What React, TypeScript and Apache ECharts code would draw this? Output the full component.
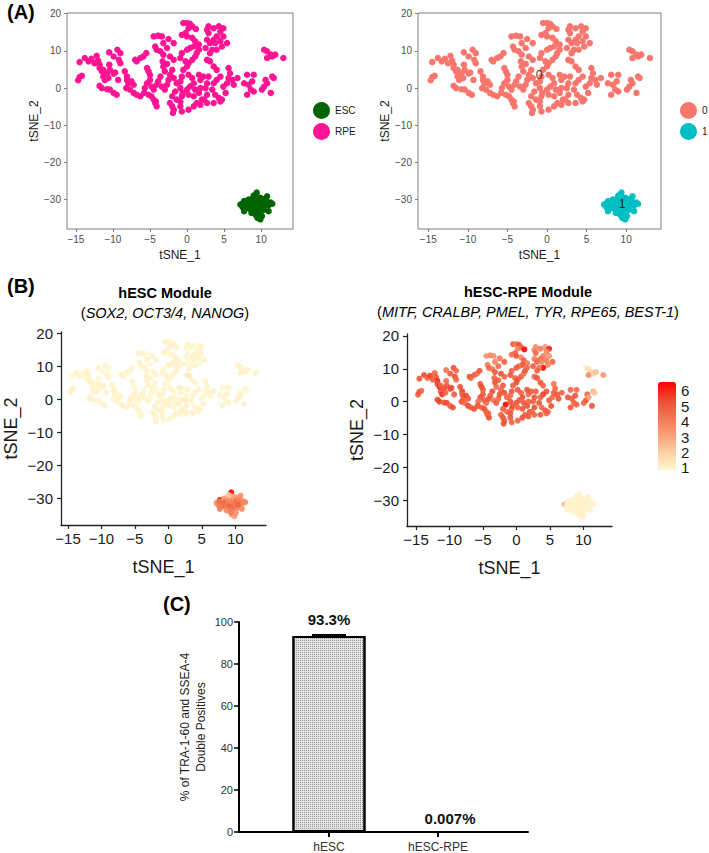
import React, { useEffect, useRef } from 'react';
import * as echarts from 'echarts';

const FONT = '"Liberation Sans", Arial, Helvetica, sans-serif';

// RPE cells: [tSNE_1, tSNE_2, hESC-RPE module score, hESC module score]
const rpeCells = [
  [-14.7,2.1,4.6,1.1],[-14.5,3.0,4.9,1.1],[-14.5,7.0,4.7,1.0],[-13.8,8.1,5.0,1.1],[-13.3,7.2,4.5,1.1],
  [-12.9,7.9,5.2,1.0],[-12.2,8.7,4.4,1.1],[-12.0,7.4,4.8,1.2],[-11.8,6.3,5.5,1.1],[-12.5,6.7,4.6,1.0],
  [-14.2,3.3,4.3,1.1],[-11.8,5.4,4.9,1.1],[-11.5,4.5,5.6,1.0],[-11.3,3.1,4.7,1.1],[-11.8,0.6,5.0,1.1],
  [-11.5,0.0,5.1,1.2],[-10.8,-0.3,4.8,1.1],[-10.4,-0.4,5.0,1.0],[-9.9,-1.3,4.6,1.1],[-9.5,-1.8,4.9,1.1],
  [-11.3,4.9,4.4,1.1],[-10.8,4.0,4.8,1.0],[-11.1,2.2,5.3,1.1],[-10.6,2.7,4.5,1.1],[-10.4,4.9,4.9,1.1],
  [-10.5,6.3,4.2,1.0],[-9.9,3.9,4.7,1.1],[-9.7,4.2,5.0,1.1],[-9.3,2.2,4.6,1.2],[-9.4,10.3,4.8,1.1],
  [-9.0,9.4,4.3,1.0],[-9.2,7.6,4.9,1.1],[-9.0,6.7,4.5,1.1],[-10.5,9.6,4.1,1.1],[-9.9,8.5,4.6,1.0],
  [-8.4,4.5,4.8,1.1],[-8.1,3.1,5.2,1.1],[-7.9,1.3,4.7,1.1],[-8.2,0.0,4.9,1.0],[-7.7,-0.4,4.4,1.1],
  [-7.2,-1.3,5.0,1.1],[-6.8,-1.8,4.6,1.2],[-6.3,-2.2,4.8,1.1],[-8.1,2.2,4.5,1.1],[-7.5,1.8,5.1,1.0],
  [-7.2,0.9,4.7,1.1],
  [-7.0,7.6,4.9,1.1],[-6.8,7.2,4.4,1.1],[-6.3,8.1,4.7,1.0],[-5.9,8.5,4.2,1.1],[-5.5,9.4,4.8,1.1],
  [-5.4,5.4,4.5,1.1],[-5.2,4.5,5.0,1.0],[-5.0,2.2,4.6,1.1],[-5.4,1.3,4.9,1.1],[-5.7,0.0,4.3,1.2],
  [-5.8,-1.3,4.8,1.1],[-5.2,-1.8,4.5,1.1],[-4.8,-2.2,4.9,1.0],[-4.5,-3.1,4.6,1.1],[-4.3,-4.0,4.8,1.1],
  [-4.1,-4.9,5.0,1.1],[-4.2,-3.6,4.4,1.0],[-4.8,0.4,4.7,1.1],[-4.5,-0.4,4.2,1.1],[-4.1,0.9,4.9,1.1],
  [-5.0,3.6,4.6,1.0],[-4.3,11.2,3.8,1.1],[-4.5,13.9,3.2,1.1],[-3.9,14.1,3.6,1.1],[-3.4,13.9,3.4,1.0],
  [-4.1,10.3,4.4,1.1],[-3.6,9.9,4.0,1.1],[-3.2,9.0,4.7,1.1],[-3.3,7.2,4.5,1.2],[-3.2,5.8,4.8,1.1],
  [-3.0,4.5,4.3,1.1],[-3.6,3.1,4.9,1.0],[-3.9,1.8,4.6,1.1],[-3.4,0.4,3.9,1.1],[-3.0,-0.4,4.7,1.1],
  [-2.7,0.9,4.4,1.0],[-2.5,2.2,4.8,1.1],[-2.3,3.6,4.5,1.1],[-2.5,13.2,3.9,1.1],[-1.8,12.1,4.5,1.1],
  [-2.7,10.8,4.2,1.0],[-3.2,12.1,3.7,1.1],[-2.3,8.5,4.8,1.1],[-1.8,7.6,4.4,1.1],[-2.7,6.5,4.6,1.1],
  [-2.0,4.9,4.7,1.1],[-1.8,2.7,4.9,1.0],[-1.4,1.3,4.5,1.1],[-0.9,0.0,5.0,1.1],[-1.6,-0.9,6.0,1.1],
  [-2.0,-2.2,4.6,1.2],[-2.3,-4.0,4.4,1.1],[-2.0,-4.9,4.8,1.1],[-1.8,-5.8,4.6,1.0],[-1.9,-6.7,4.9,1.1],
  [-1.4,-3.1,4.3,1.1],[-0.9,-3.6,4.7,1.1],[-0.7,-2.2,4.5,1.0],[-0.6,-1.3,4.8,1.1],[-0.5,17.5,4.6,1.1],
  [0.0,17.5,4.0,1.1],[0.4,17.3,5.0,1.0],[0.7,16.6,4.4,1.1],[0.2,16.1,3.8,1.1],[-0.2,14.8,4.5,1.1],
  [-0.7,14.3,4.2,1.1],[0.0,13.9,4.7,1.0],[0.7,13.5,3.6,1.1],[1.1,12.6,4.6,1.1],[1.6,11.7,3.9,1.1],
  [0.9,11.2,4.8,1.2],[0.4,10.8,4.3,1.1],[0.0,10.3,4.7,1.1],[-0.7,9.4,4.5,1.0],[-0.9,8.1,4.9,1.1],
  [-0.2,7.2,4.4,1.1],[0.2,6.7,4.8,1.1],[0.7,7.6,4.6,1.0],[1.1,8.5,4.1,1.1],[1.3,9.4,4.7,1.1],
  [1.6,10.3,4.4,1.1],[0.0,5.8,4.9,1.1],[-0.5,4.9,4.6,1.0],[-0.7,3.1,4.8,1.1],[-0.9,1.8,4.3,1.1],
  [0.2,3.6,4.7,1.1],[0.7,2.7,4.5,1.1],[0.9,1.3,4.9,1.0],[0.4,0.4,4.6,1.1],[0.0,-0.4,4.8,1.1],
  [0.2,-1.8,4.4,1.1],[0.9,-2.2,4.7,1.0],[1.6,-1.3,4.9,1.1],[1.8,0.0,4.5,1.1],[1.1,-0.4,4.8,1.1],
  [1.8,2.2,4.2,1.1],[2.2,3.1,4.6,1.0],[1.6,3.6,4.9,1.1],[0.2,-5.8,4.5,1.1],[-0.9,-4.9,4.7,1.1],
  [-0.7,-6.3,4.4,1.0],[2.0,-3.1,4.8,1.1],[1.3,-4.0,4.6,1.1],[0.9,-4.9,4.9,1.1],[2.7,15.7,3.7,1.1],
  [2.9,14.8,4.3,1.0],[2.7,13.0,3.9,1.1],[2.5,10.8,4.6,1.1],[2.7,7.6,4.4,1.1],[3.1,7.2,4.8,1.5],
  [2.9,3.1,4.5,1.1],[2.7,1.3,4.8,1.0],[2.5,0.0,4.6,1.3],[2.7,-1.8,4.9,1.1],[2.3,-3.1,4.4,1.1],
  [1.8,-4.5,4.7,1.1],[1.2,15.9,6.0,1.1],
  [2.9,16.6,3.5,1.1],[3.6,16.1,3.9,1.1],[4.3,16.6,3.3,1.0],[4.9,16.1,5.6,1.1],[4.5,15.2,3.6,1.1],
  [4.0,13.9,3.8,1.1],[3.6,13.0,4.2,1.1],[3.1,12.1,4.5,1.0],[3.8,12.1,3.6,1.1],[4.5,12.6,3.9,1.1],
  [4.9,13.9,3.4,1.1],[5.4,12.1,4.4,1.1],[4.7,11.2,3.7,1.0],[4.0,10.3,6.0,1.1],[3.4,10.3,4.1,1.1],
  [3.1,9.4,4.6,1.1],[3.6,5.8,4.8,1.1],[4.0,4.9,4.4,1.0],[4.5,3.1,4.7,1.1],[4.0,2.2,5.2,1.1],
  [3.6,1.3,4.5,1.1],[3.4,-0.4,4.8,1.1],[3.8,-1.8,4.3,1.0],[4.3,-2.7,4.7,1.1],[4.7,-3.1,4.5,1.1],
  [5.2,-1.3,4.9,1.1],[4.9,0.4,4.6,1.1],[5.4,1.3,4.2,1.0],[5.6,2.7,4.7,1.1],[5.8,4.0,4.4,1.1],
  [5.6,5.4,4.0,1.1],[6.1,2.2,4.6,1.1],[6.3,0.9,4.8,1.0],[4.5,-3.6,4.4,1.1],[3.6,-4.0,4.7,1.1],
  [2.7,-4.0,4.5,1.1],
  [6.8,2.7,4.5,1.1],[7.7,1.3,4.7,1.1],[8.1,3.6,4.3,1.0],[8.3,0.9,4.6,1.1],[9.0,3.6,4.2,1.1],
  [8.8,1.8,4.8,1.1],[8.6,-0.4,4.5,1.0],[8.1,-1.8,4.7,1.1],[9.0,-0.9,4.4,1.1],[10.4,10.3,1.3,1.1],
  [10.8,9.9,1.6,1.1],[11.3,9.0,1.9,1.0],[10.8,8.1,3.6,1.1],[11.5,8.5,2.0,1.1],[11.9,9.0,2.3,1.1],
  [13.0,8.1,3.3,1.1],[10.6,2.2,4.4,1.0],[10.4,0.4,4.7,1.1],[10.1,-0.4,4.5,1.1],[10.8,1.3,3.0,1.1],
  [11.5,3.1,2.6,1.1],[11.7,2.7,2.2,1.0],[11.3,-1.3,4.8,1.1],
];

// ESC cells: [tSNE_1, tSNE_2, hESC-RPE module score, hESC module score]
const escCells = [
  [7.2,-31.3,2.6,3.4],[7.5,-32.0,1.2,3.8],[7.7,-33.1,1.1,4.0],[7.9,-31.0,1.2,3.6],[7.7,-30.4,1.1,6.0],
  [8.3,-30.0,1.1,3.2],[8.3,-31.5,1.1,4.2],[8.5,-32.5,1.2,3.7],[8.6,-30.8,1.1,4.4],[8.8,-29.8,1.1,3.0],
  [8.9,-31.8,1.1,3.9],[9.0,-33.0,1.2,4.1],[9.1,-30.5,1.1,3.5],[9.2,-32.0,1.1,4.5],[9.4,-28.1,1.1,6.0],
  [9.4,-29.3,1.1,2.4],[9.5,-31.0,1.1,3.8],[9.5,-34.9,1.1,3.3],[9.6,-33.5,1.2,4.0],[9.7,-30.2,1.1,3.6],
  [9.8,-32.3,1.1,4.3],[9.9,-29.5,1.1,3.1],[10.0,-31.5,1.1,3.9],[10.1,-34.4,1.1,3.4],[10.2,-30.6,1.2,4.2],
  [10.3,-32.8,1.1,3.7],[10.5,-29.8,1.1,3.5],[10.6,-31.2,1.1,4.0],[10.8,-29.1,1.1,3.3],[10.8,-30.5,1.1,3.8],
  [11.0,-33.1,1.1,3.6],[11.0,-31.5,1.1,3.9],[11.3,-30.8,1.1,3.4],[11.5,-31.1,1.2,3.7],[8.1,-32.2,1.1,4.1],
  [8.7,-33.6,1.1,3.5],[9.3,-34.2,1.1,3.8],[10.4,-31.9,1.1,4.4],[9.0,-28.9,1.1,2.2],[7.6,-30.8,1.1,3.9],
  [9.9,-35.3,1.1,3.2],
];

const xTicks = [-15, -10, -5, 0, 5, 10];
const yTicks = [-30, -20, -10, 0, 10, 20];
const clusterLabels = [[-1.0, 3.6, '0'], [9.5, -31.1, '1']];
const colorbarTicks = [1, 2, 3, 4, 5, 6];

const barCategories = ['hESC', 'hESC-RPE'];
const barValues = [93.3, 0.007];
const barErrors = [0.35, 0];
const barLabels = ['93.3%', '0.007%'];

const fmtMinus = (v: number) => (v < 0 ? '\u2212' + Math.abs(v) : String(v));

function axA(gi: number, dir: 'x' | 'y', min: number, max: number) {
  return {
    type: 'value', gridIndex: gi, min, max,
    name: dir === 'x' ? 'tSNE_1' : 'tSNE_2',
    nameLocation: 'middle', nameGap: dir === 'x' ? 20 : 22,
    nameTextStyle: { fontSize: 12, color: '#1a1a1a', fontFamily: FONT },
    axisLine: { show: false, onZero: false },
    axisTick: { show: true, length: 3, lineStyle: { color: '#7f7f7f' }, customValues: dir === 'x' ? xTicks : yTicks },
    axisLabel: { fontSize: 10, color: '#4d4d4d', fontFamily: FONT, margin: dir === 'x' ? 5 : 6, customValues: dir === 'x' ? xTicks : yTicks, formatter: fmtMinus },
    splitLine: { show: false },
  };
}

function axB(gi: number, dir: 'x' | 'y', min: number, max: number) {
  return {
    type: 'value', gridIndex: gi, min, max,
    name: dir === 'x' ? 'tSNE_1' : 'tSNE_2',
    nameLocation: 'middle', nameGap: dir === 'x' ? 33 : 41,
    nameTextStyle: { fontSize: 18, color: '#1a1a1a', fontFamily: FONT },
    axisLine: { show: true, onZero: false, lineStyle: { color: '#222', width: 1.3 } },
    axisTick: { show: true, length: 4, lineStyle: { color: '#222', width: 1.2 }, customValues: dir === 'x' ? xTicks : yTicks },
    axisLabel: { fontSize: 15, color: '#1a1a1a', fontFamily: FONT, margin: dir === 'x' ? 6 : 8, customValues: dir === 'x' ? xTicks : yTicks, formatter: fmtMinus },
    splitLine: { show: false },
  };
}

const gridBox = { show: true, borderColor: '#7f7f7f', borderWidth: 1, backgroundColor: '#fff' };

export default function App() {
  const ref = useRef<HTMLDivElement>(null);
  useEffect(() => {
    document.body.style.margin = '0';
    const chart = echarts.init(ref.current!, null, { renderer: 'svg' });
    const allCells = [...rpeCells, ...escCells];
    const richSub = {
      n: { fontSize: 14.5, fontFamily: FONT, fill: '#000' },
      i: { fontSize: 14.5, fontFamily: FONT, fontStyle: 'italic', fill: '#000' },
    };
    const option: any = {
      animation: false,
      textStyle: { fontFamily: FONT },
      grid: [
        { left: 67, top: 13, width: 226, height: 216, ...gridBox },
        { left: 418, top: 13, width: 243, height: 216, ...gridBox },
        { left: 61, top: 332, width: 205, height: 193 },
        { left: 407, top: 334, width: 205, height: 192 },
        { left: 239, top: 622, width: 289, height: 211 },
        { left: 658, top: 382, width: 18, height: 88 },
      ],
      xAxis: [
        axA(0, 'x', -16.2, 14.3),
        axA(1, 'x', -16.3, 14.4),
        axB(2, 'x', -16.05, 14.6),
        axB(3, 'x', -16.35, 14.3),
        {
          type: 'value', gridIndex: 4, min: 0.175, max: 2.825,
          axisLine: { show: true, onZero: false, lineStyle: { color: '#000', width: 2 } },
          axisTick: { show: true, length: 5, lineStyle: { color: '#000', width: 2 }, customValues: [1, 2] },
          axisLabel: { fontSize: 12, color: '#333', margin: 9, customValues: [1, 2], formatter: (v: number) => barCategories[Math.round(v) - 1] },
          splitLine: { show: false },
        },
        { type: 'value', gridIndex: 5, min: 0, max: 1, show: false },
      ],
      yAxis: [
        axA(0, 'y', -37.9, 20.2),
        axA(1, 'y', -37.9, 20.2),
        axB(2, 'y', -38.0, 20.5),
        axB(3, 'y', -37.9, 20.6),
        {
          type: 'value', gridIndex: 4, min: 0, max: 100, interval: 20,
          name: '% of TRA-1-60 and SSEA-4\nDouble Positives', nameLocation: 'middle', nameGap: 30, nameRotate: 90,
          nameTextStyle: { fontSize: 12, color: '#222', lineHeight: 16, fontFamily: FONT },
          axisLine: { show: true, onZero: false, lineStyle: { color: '#000', width: 2 } },
          axisTick: { show: true, length: 5, lineStyle: { color: '#000', width: 1.5 } },
          axisLabel: { fontSize: 11, color: '#333', margin: 6 },
          splitLine: { show: false },
        },
        {
          type: 'value', gridIndex: 5, min: 0.87, max: 6.58, position: 'right',
          axisLine: { show: false },
          axisTick: { show: true, inside: true, length: 4, lineStyle: { color: '#fff', width: 1 }, customValues: colorbarTicks },
          axisLabel: { fontSize: 15, color: '#1a1a1a', margin: 5, customValues: colorbarTicks },
          splitLine: { show: false },
        },
      ],
      legend: [
        {
          data: ['ESC', 'RPE'], left: 313, top: 102, orient: 'vertical', icon: 'circle',
          itemWidth: 17, itemHeight: 17, itemGap: 4, padding: 0, selectedMode: false,
          textStyle: { fontSize: 10, color: '#1a1a1a', fontFamily: FONT },
        },
        {
          data: ['0', '1'], left: 680, top: 102, orient: 'vertical', icon: 'circle',
          itemWidth: 17, itemHeight: 17, itemGap: 4, padding: 0, selectedMode: false,
          textStyle: { fontSize: 10, color: '#1a1a1a', fontFamily: FONT },
        },
      ],
      visualMap: {
        type: 'continuous', min: 1, max: 6, dimension: 2, seriesIndex: [4, 5],
        calculable: false, show: true, left: 658, top: 382, itemWidth: 18, itemHeight: 88,
        padding: 0, text: null, hoverLink: false,
        inRange: { color: ['#FFF7CF', '#FDD0A4', '#F9A078', '#F47553', '#EE4A30', '#FF0000'] },
      },
      graphic: [
        { type: 'text', left: 7, top: 2, style: { text: '(A)', font: `bold 20px ${FONT}`, fill: '#000' } },
        { type: 'text', left: 7, top: 276, style: { text: '(B)', font: `bold 20px ${FONT}`, fill: '#000' } },
        { type: 'text', left: 163, top: 594, style: { text: '(C)', font: `bold 20px ${FONT}`, fill: '#000' } },
        { type: 'text', x: 165, y: 293, style: { text: 'hESC Module', font: `bold 14.5px ${FONT}`, fill: '#000', textAlign: 'center', textVerticalAlign: 'middle' } },
        {
          type: 'text', x: 165, y: 313,
          style: { text: '{n|(}{i|SOX2, OCT3/4, NANOG}{n|)}', textAlign: 'center', textVerticalAlign: 'middle', fill: '#000', rich: richSub },
        },
        { type: 'text', x: 528, y: 292, style: { text: 'hESC-RPE Module', font: `bold 14.5px ${FONT}`, fill: '#000', textAlign: 'center', textVerticalAlign: 'middle' } },
        {
          type: 'text', x: 528, y: 312,
          style: { text: '{n|(}{i|MITF, CRALBP, PMEL, TYR, RPE65, BEST-1}{n|)}', textAlign: 'center', textVerticalAlign: 'middle', fill: '#000', rich: richSub },
        },
      ],
      series: [
        { type: 'scatter', name: 'RPE', xAxisIndex: 0, yAxisIndex: 0, symbolSize: 6.5, itemStyle: { color: '#FF1493', opacity: 1 }, data: rpeCells.map((c) => [c[0], c[1]]) },
        { type: 'scatter', name: 'ESC', xAxisIndex: 0, yAxisIndex: 0, symbolSize: 6.5, itemStyle: { color: '#006400', opacity: 1 }, data: escCells.map((c) => [c[0], c[1]]) },
        { type: 'scatter', name: '0', xAxisIndex: 1, yAxisIndex: 1, symbolSize: 6.5, itemStyle: { color: '#F8766D', opacity: 1 }, data: rpeCells.map((c) => [c[0], c[1]]) },
        { type: 'scatter', name: '1', xAxisIndex: 1, yAxisIndex: 1, symbolSize: 6.5, itemStyle: { color: '#00BFC4', opacity: 1 }, data: escCells.map((c) => [c[0], c[1]]) },
        { type: 'scatter', name: 'hESC Module', xAxisIndex: 2, yAxisIndex: 2, symbolSize: 6, itemStyle: { opacity: 0.9 }, data: allCells.map((c) => [c[0], c[1], c[3]]) },
        { type: 'scatter', name: 'hESC-RPE Module', xAxisIndex: 3, yAxisIndex: 3, symbolSize: 6, itemStyle: { opacity: 0.9 }, data: allCells.map((c) => [c[0], c[1], c[2]]) },
        {
          type: 'scatter', name: 'cluster ids', xAxisIndex: 1, yAxisIndex: 1, symbolSize: 0, z: 5,
          label: { show: true, position: 'inside', fontSize: 12, color: '#000', fontFamily: FONT, formatter: (p: any) => p.data[2] },
          data: clusterLabels,
        },
        {
          type: 'bar', name: 'Double positives', xAxisIndex: 4, yAxisIndex: 4, barWidth: 73,
          itemStyle: {
            color: '#e3e3e3', borderColor: '#000', borderWidth: 2,
            decal: { symbol: 'rect', symbolSize: 1, dashArrayX: [1, 1], dashArrayY: [1, 1], color: 'rgba(90,90,90,0.55)' },
          },
          label: {
            show: true, position: 'top', distance: 9, fontSize: 15, fontWeight: 'bold', color: '#111', fontFamily: FONT,
            formatter: (p: any) => barLabels[p.dataIndex],
          },
          data: barValues.map((v, i) => (i === 1 ? { value: [i + 1, v], label: { offset: [12, 0], distance: 5 } } : { value: [i + 1, v] })),
        },
        {
          type: 'custom', name: 'error', xAxisIndex: 4, yAxisIndex: 4, z: 5,
          data: barValues.map((v, i) => [i + 1, v, v + barErrors[i]]).filter((d, i) => barErrors[i] > 0),
          renderItem: (params: any, api: any) => {
            const top = api.coord([api.value(0), api.value(2)]);
            const base = api.coord([api.value(0), api.value(1)]);
            return {
              type: 'group',
              children: [
                { type: 'line', shape: { x1: top[0] - 17, y1: top[1], x2: top[0] + 17, y2: top[1] }, style: { stroke: '#000', lineWidth: 2.5 } },
                { type: 'line', shape: { x1: top[0], y1: top[1], x2: top[0], y2: base[1] }, style: { stroke: '#000', lineWidth: 1.5 } },
              ],
            };
          },
        },
        { type: 'scatter', name: 'colorbar', xAxisIndex: 5, yAxisIndex: 5, data: [] },
      ],
    };
    chart.setOption(option);
    return () => chart.dispose();
  }, []);
  return <div ref={ref} style={{ width: 709, height: 853 }} />;
}
